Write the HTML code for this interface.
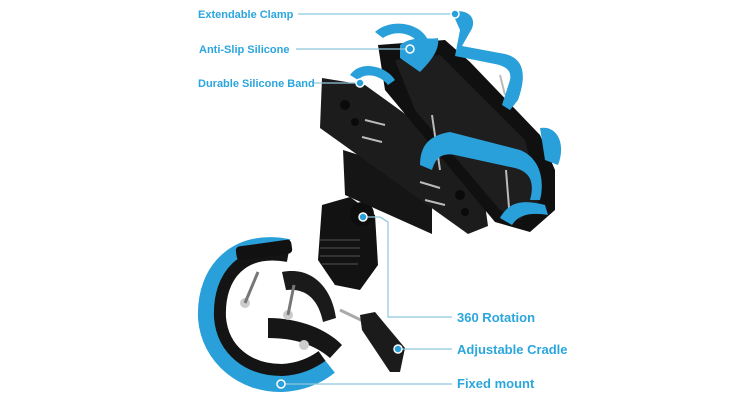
<!DOCTYPE html>
<html><head><meta charset="utf-8"><style>
html,body{margin:0;padding:0;background:#fff;}
svg{display:block}
text{font-family:"Liberation Sans",sans-serif;font-weight:bold;font-size:11px;fill:#2ba6dd}
text.big{font-size:13px}
</style></head><body>
<svg width="750" height="400" viewBox="0 0 750 400">
<rect width="750" height="400" fill="#fff"/>
<path d="M288,250 C240,240 207,270 209,318 C212,356 245,382 282,381 C303,380 318,372 328,364" fill="none" stroke="#2aa0da" stroke-width="22"/>
<path d="M288,256 C244,248 218,274 220,318 C223,350 248,370 282,370 C300,369 312,363 322,356" fill="none" stroke="#141414" stroke-width="12"/>
<path d="M268,330 C295,330 318,340 333,352" fill="none" stroke="#2aa0da" stroke-width="8"/>
<path d="M268,318 C300,318 328,330 342,345 L330,358 C315,345 295,338 268,338 Z" fill="#161616"/>
<path d="M282,272 C312,266 332,288 336,318 L323,322 C318,298 305,288 286,290 Z" fill="#1a1a1a"/>
<rect x="236" y="243" width="56" height="14" rx="4" fill="#111" transform="rotate(-8 264 250)"/>
<g fill="#ccc"><circle cx="245" cy="303" r="5"/><circle cx="288" cy="315" r="5"/><circle cx="304" cy="345" r="5"/></g>
<line x1="245" y1="303" x2="258" y2="272" stroke="#777" stroke-width="3"/>
<line x1="288" y1="315" x2="294" y2="285" stroke="#777" stroke-width="3"/>
<path d="M322,205 L350,197 L375,215 L378,265 L360,290 L335,285 L318,260 Z" fill="#121212"/>
<g stroke="#333" stroke-width="2"><line x1="320" y1="240" x2="360" y2="240"/><line x1="320" y1="248" x2="360" y2="248"/><line x1="320" y1="256" x2="360" y2="256"/><line x1="322" y1="264" x2="358" y2="264"/></g>
<line x1="340" y1="310" x2="365" y2="322" stroke="#aaa" stroke-width="3"/>
<path d="M360,315 L375,312 L405,348 L400,372 L390,372 L362,330 Z" fill="#1b1b1b"/>
<circle cx="362" cy="214" r="12" fill="#0d0d0d"/>
<polygon points="343,150 432,178 432,234 345,195" fill="#151515"/>
<polygon points="322,78 365,85 480,168 488,226 468,234 320,128" fill="#1c1c1c"/>
<g fill="#0a0a0a"><circle cx="345" cy="105" r="5"/><circle cx="355" cy="122" r="4"/><circle cx="460" cy="195" r="5"/><circle cx="465" cy="212" r="4"/></g>
<g stroke="#bbb" stroke-width="2"><line x1="365" y1="120" x2="385" y2="125"/><line x1="362" y1="137" x2="382" y2="142"/><line x1="420" y1="182" x2="440" y2="188"/><line x1="425" y1="200" x2="445" y2="205"/></g>
<polygon points="378,45 445,40 470,62 540,135 555,170 555,210 530,232 495,222 410,120 385,90" fill="#101010"/>
<polygon points="395,60 440,55 525,140 540,200 520,220 500,210 415,110" fill="#1e1e1e"/>
<line x1="432" y1="115" x2="440" y2="170" stroke="#bbb" stroke-width="2"/>
<line x1="500" y1="75" x2="505" y2="95" stroke="#bbb" stroke-width="2"/>
<line x1="506" y1="170" x2="510" y2="220" stroke="#bbb" stroke-width="2"/>
<path d="M452,12 C470,8 478,20 470,32 L462,46 L505,54 C522,58 528,72 518,100 L510,110 L502,105 L510,80 C512,70 505,66 495,64 L455,56 L460,30 Z" fill="#2aa0da"/>
<path d="M375,32 C390,18 420,22 428,40 L420,45 C412,32 395,30 383,38 Z" fill="#2aa0da"/>
<path d="M400,45 C412,35 430,40 438,38 C440,50 430,62 420,72 L400,58 Z" fill="#2aa0da"/>
<path d="M350,75 C360,60 385,65 395,80 L388,85 C380,75 365,72 358,80 Z" fill="#2aa0da"/>
<path d="M420,165 C420,145 430,135 450,132 L520,150 C540,158 545,180 540,200 L530,200 C535,182 530,172 515,168 L455,155 C440,152 435,160 432,170 Z" fill="#2aa0da"/>
<path d="M540,128 C558,125 566,145 558,165 L545,160 Z" fill="#2aa0da"/>
<path d="M500,218 C510,200 525,200 545,205 L548,215 C530,212 518,215 512,225 Z" fill="#2aa0da"/>
<g stroke="#8fc6dd" stroke-width="1.2" fill="none">
<line x1="298" y1="14" x2="455" y2="14"/>
<line x1="296" y1="49" x2="410" y2="49"/>
<line x1="314" y1="83" x2="360" y2="83"/>
<polyline points="363,217 380,217 388,222 388,317 452,317"/>
<line x1="398" y1="349" x2="452" y2="349"/>
<line x1="282" y1="384" x2="452" y2="384"/>
</g>
<g fill="#2aa0da" stroke="#fff" stroke-width="1.5">
<circle cx="455" cy="14" r="4"/><circle cx="410" cy="49" r="4"/><circle cx="360" cy="83" r="4"/>
<circle cx="363" cy="217" r="4"/>
<circle cx="398" cy="349" r="4"/><circle cx="281" cy="384" r="4"/>
</g>
<text x="198" y="18">Extendable Clamp</text>
<text x="199" y="53">Anti-Slip Silicone</text>
<text x="198" y="87">Durable Silicone Band</text>
<text class="big" x="457" y="322">360 Rotation</text>
<text class="big" x="457" y="354">Adjustable Cradle</text>
<text class="big" x="457" y="388">Fixed mount</text>
</svg>
</body></html>
